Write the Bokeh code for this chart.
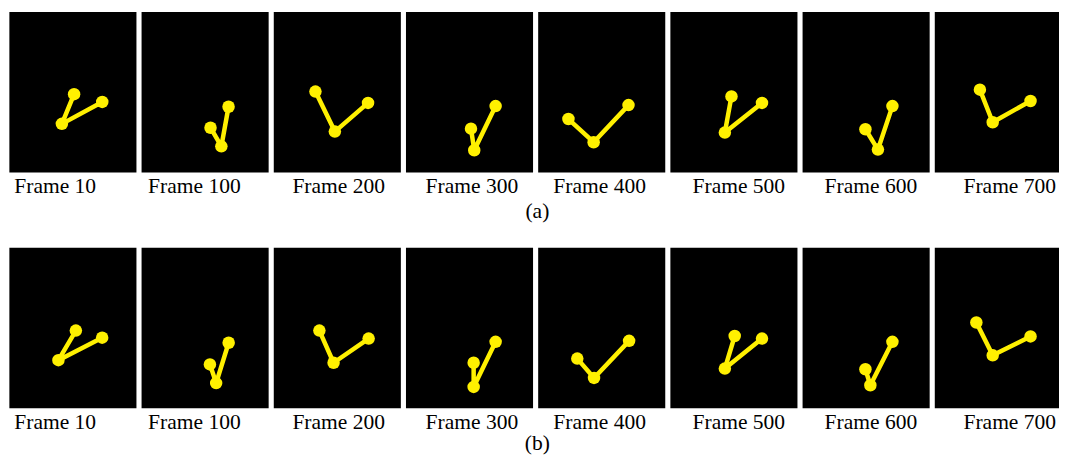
from bokeh.plotting import figure
from bokeh.models import Range1d
from bokeh.embed import file_html
from bokeh.resources import INLINE
from bokeh.core.properties import value

# ---------------- data (joint positions inside each frame image, px, y downward) ----------------
frames = [10, 100, 200, 300, 400, 500, 600, 700]
row_captions = ["(a)", "(b)"]

# row (a)
a_hub_x  = [53.3, 81.0, 62.0, 69.3, 56.3, 55.3, 76.5, 58.8]
a_hub_y  = [115.7, 139.0, 123.7, 143.0, 134.7, 124.7, 142.3, 114.0]
a_arm1_x = [65.7, 70.0, 42.3, 66.0, 30.7, 62.0, 63.8, 45.8]
a_arm1_y = [85.0, 119.7, 82.3, 120.7, 110.7, 87.3, 121.3, 80.3]
a_arm2_x = [94.3, 88.3, 95.7, 91.0, 91.7, 93.0, 91.2, 97.2]
a_arm2_y = [93.0, 98.0, 94.0, 97.3, 96.3, 94.0, 97.3, 92.0]

# row (b)
b_hub_x  = [49.8, 75.7, 60.7, 68.7, 56.7, 55.3, 68.8, 58.8]
b_hub_y  = [116.3, 140.0, 119.0, 144.0, 134.7, 125.0, 142.3, 111.3]
b_arm1_x = [67.5, 69.4, 46.3, 68.7, 39.7, 65.3, 63.8, 42.2]
b_arm1_y = [85.7, 120.7, 85.7, 119.0, 114.7, 91.3, 125.7, 77.3]
b_arm2_x = [94.2, 88.4, 96.3, 91.0, 92.3, 93.0, 91.2, 97.2]
b_arm2_y = [93.0, 98.3, 94.0, 97.3, 96.3, 94.0, 97.3, 91.7]

rows = [
    (a_hub_x, a_hub_y, a_arm1_x, a_arm1_y, a_arm2_x, a_arm2_y),
    (b_hub_x, b_hub_y, b_arm1_x, b_arm1_y, b_arm2_x, b_arm2_y),
]

# ---------------- layout ----------------
PANEL_W, PANEL_H = 129, 166
PANEL_PITCH = 134.2
PANEL_LEFT0 = 9
ROW_TOP = [12, 256]
LABEL_X = [55.5, 196.8, 343.3, 478.5, 608.2, 749.5, 883.5, 1024.5]
LABEL_DY = 180
CAPTION_X = 545
CAPTION_DY = [206, 202]
YELLOW = "#FFF000"
FONT = "Liberation Serif"
FONT_SIZE = "21.5px"

p = figure(width=1059, height=455, output_backend="svg", toolbar_location=None,
           x_range=Range1d(0, 1075), y_range=Range1d(471, 0),
           x_axis_type=None, y_axis_type=None, min_border=0)
p.grid.visible = False
p.outline_line_color = None
p.background_fill_color = "white"
p.border_fill_color = "white"

qx_l, qx_r, qy_t, qy_b = [], [], [], []
line_xs, line_ys = [], []
dot_x, dot_y = [], []
lab_x, lab_y, lab_t = [], [], []
cap_x, cap_y, cap_t = [], [], []

for r, (hx, hy, a1x, a1y, a2x, a2y) in enumerate(rows):
    top = ROW_TOP[r]
    for i, f in enumerate(frames):
        left = PANEL_LEFT0 + i * PANEL_PITCH
        qx_l.append(left); qx_r.append(left + PANEL_W)
        qy_t.append(top); qy_b.append(top + PANEL_H)
        xs = [left + a1x[i], left + hx[i], left + a2x[i]]
        ys = [top + a1y[i], top + hy[i], top + a2y[i]]
        line_xs.append(xs); line_ys.append(ys)
        dot_x.extend(xs); dot_y.extend(ys)
        lab_x.append(LABEL_X[i]); lab_y.append(top + LABEL_DY); lab_t.append(f"Frame {f}")
    cap_x.append(CAPTION_X); cap_y.append(top + CAPTION_DY[r]); cap_t.append(row_captions[r])

p.quad(left=qx_l, right=qx_r, top=qy_t, bottom=qy_b, fill_color="black", line_color=None)
p.multi_line(xs=line_xs, ys=line_ys, line_color=YELLOW, line_width=4.5, line_join="round")
p.scatter(x=dot_x, y=dot_y, size=12.5, marker="circle", fill_color=YELLOW, line_color=None)

p.text(x=lab_x, y=lab_y, text=lab_t, text_font=value(FONT), text_font_size=value(FONT_SIZE),
       text_align="center", text_baseline="middle", text_color="black")
p.text(x=cap_x, y=cap_y, text=cap_t, text_font=value(FONT), text_font_size=value(FONT_SIZE),
       text_align="center", text_baseline="middle", text_color="black")

open("out.html", "w").write(file_html(p, INLINE))
